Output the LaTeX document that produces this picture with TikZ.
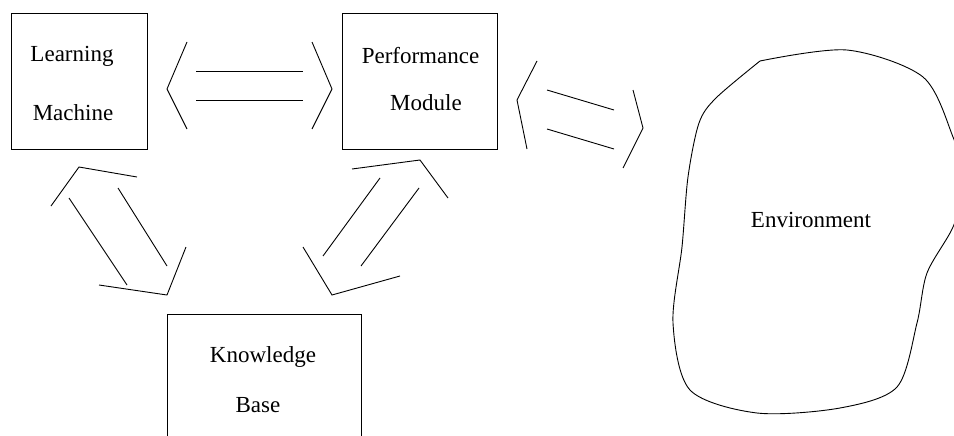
\documentclass[tikz,border=0pt]{standalone}
\usepackage{fontspec}
\setmainfont{Liberation Serif}
\begin{document}
\begin{tikzpicture}[x=1pt,y=-1pt,line width=0.9pt,
  box/.style={draw,line width=0.9pt,inner sep=0pt},
  lbl/.style={font=\fontsize{23}{28}\selectfont,inner sep=0pt,anchor=center},
  arr/.style={line width=0.9pt}]
\useasboundingbox (0,0) rectangle (954,436);
% boxes
\node[box,minimum width=136pt,minimum height=136pt] (lm) at (79,81) {};
\node[box,minimum width=155pt,minimum height=136pt] (pm) at (419.5,81) {};
\coordinate (kbtl) at (167,314);
\coordinate (kbtr) at (361,314);
\draw (167,440) -- (kbtl) -- (kbtr) -- (361,440);
% labels
\node[lbl] (lm1) at (72,56) {Learning};
\node[lbl] (lm2) at (73,113) {Machine};
\node[lbl] (pm1) at (420.5,56) {Performance};
\node[lbl] (pm2) at (426,103) {Module};
\node[lbl] (kb1) at (263,357) {Knowledge};
\node[lbl] (kb2) at (258,405) {Base};
\node[lbl] (env) at (811,220) {Environment};
% LM <-> PM
\draw[arr] (187,42) -- (167,89) -- (187,129);
\draw[arr] (196,71) -- (303,71);
\draw[arr] (196,100) -- (303,100);
\draw[arr] (312,42) -- (332,89) -- (312,129);
% PM <-> Env
\draw[arr] (537,61) -- (517,100) -- (527,149);
\draw[arr] (547,90) -- (614,110);
\draw[arr] (547,129) -- (614,149);
\draw[arr] (633,90) -- (643,128) -- (623,168);
% LM <-> KB
\draw[arr] (51,206) -- (79,167) -- (137,177);
\draw[arr] (69,198) -- (127,285);
\draw[arr] (118,188) -- (167,266);
\draw[arr] (99,285) -- (167,295) -- (186,247);
% KB <-> PM
\draw[arr] (352,169) -- (420,160) -- (448,198);
\draw[arr] (380,178) -- (323,256);
\draw[arr] (419,188) -- (361,266);
\draw[arr] (303,247) -- (332,295) -- (400,276);
% environment blob
\draw[line width=0.9pt] plot[smooth,tension=0.5] coordinates {
  (760,61) (847,50) (923,77) (953,137) (966,182) (953,227) (927,273)
  (917,323) (897,387) (840,408) (757,413) (690,390) (673,323)
  (682,247) (688,177) (699,123) (716,98) (760,61)};
\end{tikzpicture}
\end{document}
